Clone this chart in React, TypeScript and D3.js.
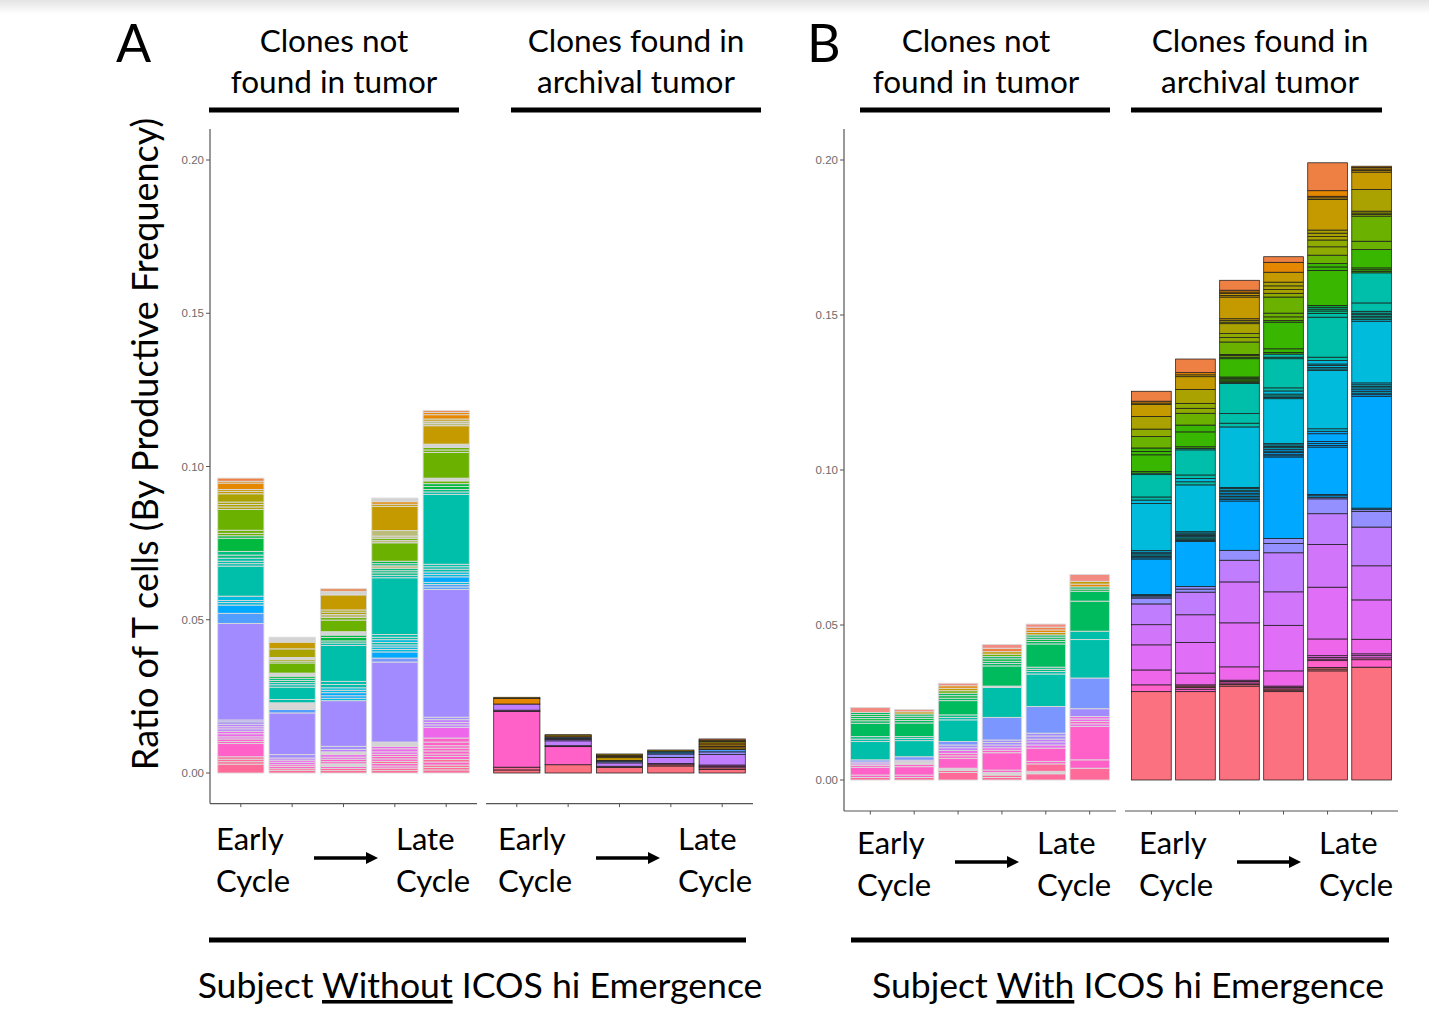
import React from "react";
import * as d3 from "d3";

type Seg = [number, string];

// Colour of each clone group (hue family)
const PAL: Record<string, string> = {
  rd: "#FC717F", pr: "#FF6A98", pk: "#FF61C9", mg: "#EE67EB", or1: "#E06EF6", or2: "#D176FA",
  vi: "#C07EFF", lv: "#A28BFF", pw: "#7B97FF", pv: "#9590FF", bl: "#529EFF", ab: "#00A9FF",
  cy: "#00BBDB", tl: "#00BFAA", gt: "#00BE7E", gr: "#00B93E", gn: "#00BA5E", lm: "#39B600",
  yg: "#6BB100", og: "#8FAA00", ol: "#AAA200", kh: "#BDBD7A", gd: "#C49A00", on: "#E58700",
  sa: "#EE8044", sl: "#F28B82", lg: "#D3D3D3",
};

const Y_TICKS = [0, 0.05, 0.1, 0.15, 0.2];

// Panel A — clones not found in tumor (bottom -> top)
const A_NOT_1: Seg[] = [[0.0029,"pr"],[0.0008,"pr"],[0.0008,"pr"],[0.0008,"pr"],[0.0043,"pk"],[0.0007,"pk"],[0.0008,"pk"],[0.0007,"mg"],[0.0010,"mg"],[0.0008,"mg"],[0.0008,"vi"],[0.0007,"vi"],[0.0008,"vi"],[0.0008,"lv"],[0.0006,"lv"],[0.0315,"lv"],[0.0033,"bl"],[0.0027,"ab"],[0.0008,"cy"],[0.0007,"cy"],[0.0014,"cy"],[0.0098,"tl"],[0.0008,"tl"],[0.0008,"tl"],[0.0010,"tl"],[0.0010,"gt"],[0.0012,"gt"],[0.0043,"gr"],[0.0008,"gr"],[0.0008,"yg"],[0.0010,"yg"],[0.0068,"yg"],[0.0008,"ol"],[0.0008,"ol"],[0.0008,"ol"],[0.0027,"ol"],[0.0008,"gd"],[0.0006,"gd"],[0.0021,"on"],[0.0006,"on"],[0.0010,"sa"]];
const A_NOT_2: Seg[] = [[0.0008,"pr"],[0.0006,"pr"],[0.0007,"pk"],[0.0006,"pk"],[0.0008,"mg"],[0.0007,"mg"],[0.0007,"vi"],[0.0011,"lv"],[0.0136,"lv"],[0.0011,"bl"],[0.0008,"lg"],[0.0007,"lg"],[0.0007,"lg"],[0.0011,"tl"],[0.0040,"tl"],[0.0008,"tl"],[0.0007,"tl"],[0.0007,"gt"],[0.0007,"gt"],[0.0007,"gr"],[0.0010,"lg"],[0.0033,"yg"],[0.0006,"yg"],[0.0006,"ol"],[0.0006,"lg"],[0.0028,"ol"],[0.0022,"gd"],[0.0016,"lg"]];
const A_NOT_3: Seg[] = [[0.0008,"pr"],[0.0007,"pr"],[0.0007,"pk"],[0.0008,"lg"],[0.0007,"pk"],[0.0008,"pk"],[0.0007,"mg"],[0.0008,"mg"],[0.0009,"lg"],[0.0008,"vi"],[0.0010,"lv"],[0.0149,"lv"],[0.0008,"cy"],[0.0008,"ab"],[0.0010,"ab"],[0.0008,"cy"],[0.0008,"cy"],[0.0011,"tl"],[0.0010,"tl"],[0.0117,"tl"],[0.0008,"tl"],[0.0007,"gt"],[0.0011,"gr"],[0.0008,"gr"],[0.0011,"lg"],[0.0038,"yg"],[0.0008,"yg"],[0.0010,"kh"],[0.0008,"ol"],[0.0007,"ol"],[0.0049,"gd"],[0.0012,"lg"],[0.0008,"sa"]];
const A_NOT_4: Seg[] = [[0.0008,"pr"],[0.0008,"pr"],[0.0007,"pk"],[0.0008,"pk"],[0.0007,"pr"],[0.0008,"pk"],[0.0008,"pk"],[0.0007,"pk"],[0.0008,"mg"],[0.0010,"mg"],[0.0008,"mg"],[0.0014,"lg"],[0.0261,"lv"],[0.0013,"pw"],[0.0020,"ab"],[0.0008,"cy"],[0.0008,"cy"],[0.0007,"cy"],[0.0008,"tl"],[0.0009,"cy"],[0.0008,"tl"],[0.0009,"tl"],[0.0185,"tl"],[0.0008,"tl"],[0.0008,"gt"],[0.0007,"gt"],[0.0008,"gt"],[0.0008,"kh"],[0.0007,"gt"],[0.0008,"gr"],[0.0060,"yg"],[0.0008,"kh"],[0.0007,"yg"],[0.0007,"kh"],[0.0018,"kh"],[0.0079,"gd"],[0.0007,"gd"],[0.0008,"on"],[0.0012,"lg"]];
const A_NOT_5: Seg[] = [[0.0010,"pr"],[0.0008,"pr"],[0.0008,"pr"],[0.0010,"pk"],[0.0008,"pr"],[0.0010,"pk"],[0.0008,"pk"],[0.0010,"pk"],[0.0009,"pk"],[0.0008,"pk"],[0.0012,"pk"],[0.0013,"pk"],[0.0035,"mg"],[0.0008,"vi"],[0.0008,"vi"],[0.0009,"vi"],[0.0008,"lv"],[0.0417,"lv"],[0.0008,"bl"],[0.0008,"bl"],[0.0007,"cy"],[0.0018,"ab"],[0.0008,"cy"],[0.0008,"cy"],[0.0009,"tl"],[0.0008,"tl"],[0.0008,"tl"],[0.0228,"tl"],[0.0008,"tl"],[0.0008,"gt"],[0.0010,"gr"],[0.0009,"gr"],[0.0009,"yg"],[0.0009,"lg"],[0.0084,"yg"],[0.0008,"yg"],[0.0008,"yg"],[0.0011,"lg"],[0.0060,"gd"],[0.0008,"kh"],[0.0007,"kh"],[0.0007,"gd"],[0.0014,"on"],[0.0007,"on"],[0.0006,"sa"]];

// Panel A — clones found in archival tumor
const A_FOUND_1: Seg[] = [[0.0010,"rd"],[0.0009,"pr"],[0.0182,"pk"],[0.0004,"pk"],[0.0020,"vi"],[0.0018,"on"],[0.0004,"gd"]];
const A_FOUND_2: Seg[] = [[0.0027,"rd"],[0.0059,"pk"],[0.0003,"pk"],[0.0016,"vi"],[0.0004,"vi"],[0.0004,"pv"],[0.0004,"bl"],[0.0004,"on"],[0.0004,"gd"]];
const A_FOUND_3: Seg[] = [[0.0018,"rd"],[0.0004,"rd"],[0.0011,"vi"],[0.0004,"pv"],[0.0004,"bl"],[0.0009,"gd"],[0.0004,"on"],[0.0004,"gd"],[0.0004,"gd"]];
const A_FOUND_4: Seg[] = [[0.0023,"rd"],[0.0004,"rd"],[0.0004,"pk"],[0.0020,"vi"],[0.0011,"pv"],[0.0004,"bl"],[0.0005,"ab"],[0.0004,"gd"]];
const A_FOUND_5: Seg[] = [[0.0012,"rd"],[0.0005,"rd"],[0.0005,"pk"],[0.0004,"mg"],[0.0034,"vi"],[0.0009,"pv"],[0.0008,"bl"],[0.0005,"gd"],[0.0005,"on"],[0.0005,"gd"],[0.0006,"on"],[0.0005,"ol"],[0.0004,"gd"],[0.0004,"sa"]];

// Panel B — clones not found in tumor
const B_NOT_1: Seg[] = [[0.0008,"pr"],[0.0008,"pk"],[0.0025,"pk"],[0.0006,"pk"],[0.0005,"mg"],[0.0006,"vi"],[0.0007,"pw"],[0.0059,"tl"],[0.0008,"tl"],[0.0008,"gt"],[0.0043,"gn"],[0.0008,"gn"],[0.0007,"gr"],[0.0007,"gn"],[0.0006,"gr"],[0.0007,"gn"],[0.0016,"sl"]];
const B_NOT_2: Seg[] = [[0.0008,"pr"],[0.0008,"pk"],[0.0027,"pk"],[0.0008,"pk"],[0.0008,"lg"],[0.0005,"vi"],[0.0011,"pw"],[0.0052,"tl"],[0.0007,"tl"],[0.0006,"gt"],[0.0044,"gn"],[0.0008,"gn"],[0.0007,"gr"],[0.0007,"gn"],[0.0007,"gn"],[0.0007,"gd"],[0.0007,"sl"]];
const B_NOT_3: Seg[] = [[0.0024,"pr"],[0.0007,"pr"],[0.0007,"lg"],[0.0032,"pk"],[0.0008,"pk"],[0.0008,"pk"],[0.0009,"mg"],[0.0009,"vi"],[0.0009,"lv"],[0.0011,"pw"],[0.0070,"tl"],[0.0008,"tl"],[0.0008,"gt"],[0.0046,"gn"],[0.0008,"gn"],[0.0008,"gr"],[0.0008,"gn"],[0.0008,"yg"],[0.0008,"gd"],[0.0008,"on"],[0.0008,"sl"]];
const B_NOT_4: Seg[] = [[0.0008,"pr"],[0.0008,"pr"],[0.0008,"lg"],[0.0008,"pk"],[0.0056,"pk"],[0.0008,"pk"],[0.0008,"mg"],[0.0009,"vi"],[0.0008,"lv"],[0.0008,"lv"],[0.0073,"pw"],[0.0097,"tl"],[0.0004,"lg"],[0.0065,"gn"],[0.0008,"gn"],[0.0007,"gn"],[0.0008,"gr"],[0.0007,"gn"],[0.0008,"yg"],[0.0008,"gd"],[0.0011,"sa"],[0.0012,"sl"]];
const B_NOT_5: Seg[] = [[0.0020,"pr"],[0.0008,"lg"],[0.0024,"pr"],[0.0008,"pk"],[0.0043,"pk"],[0.0010,"mg"],[0.0010,"vi"],[0.0009,"vi"],[0.0010,"lv"],[0.0009,"lv"],[0.0086,"pw"],[0.0105,"tl"],[0.0008,"tl"],[0.0007,"gt"],[0.0007,"gt"],[0.0075,"gn"],[0.0008,"gn"],[0.0007,"gr"],[0.0007,"gn"],[0.0007,"gn"],[0.0008,"gd"],[0.0008,"on"],[0.0009,"sa"],[0.0010,"sl"]];
const B_NOT_6: Seg[] = [[0.0038,"pr"],[0.0027,"pk"],[0.0108,"pk"],[0.0008,"mg"],[0.0008,"pk"],[0.0008,"mg"],[0.0008,"mg"],[0.0025,"lv"],[0.0099,"pw"],[0.0124,"tl"],[0.0027,"tl"],[0.0097,"gn"],[0.0032,"gn"],[0.0007,"gr"],[0.0007,"gn"],[0.0009,"on"],[0.0009,"gd"],[0.0022,"sl"]];

// Panel B — clones found in archival tumor
const B_FOUND_1: Seg[] = [[0.0285,"rd"],[0.0022,"pk"],[0.0048,"mg"],[0.0081,"or1"],[0.0065,"or2"],[0.0067,"vi"],[0.0019,"pv"],[0.0004,"pv"],[0.0004,"bl"],[0.0003,"ab"],[0.0115,"ab"],[0.0004,"ab"],[0.0004,"ab"],[0.0005,"cy"],[0.0004,"cy"],[0.0005,"ab"],[0.0005,"cy"],[0.0152,"cy"],[0.0011,"cy"],[0.0010,"tl"],[0.0072,"tl"],[0.0005,"tl"],[0.0005,"lm"],[0.0054,"lm"],[0.0011,"lm"],[0.0011,"lm"],[0.0037,"yg"],[0.0024,"og"],[0.0041,"ol"],[0.0038,"gd"],[0.0005,"gd"],[0.0006,"on"],[0.0032,"sa"]];
const B_FOUND_2: Seg[] = [[0.0285,"rd"],[0.0008,"pk"],[0.0005,"pk"],[0.0005,"rd"],[0.0004,"pk"],[0.0038,"mg"],[0.0099,"or1"],[0.0089,"or2"],[0.0073,"vi"],[0.0010,"pv"],[0.0008,"pv"],[0.0145,"ab"],[0.0004,"cy"],[0.0004,"cy"],[0.0004,"tl"],[0.0004,"cy"],[0.0004,"cy"],[0.0004,"cy"],[0.0004,"cy"],[0.0004,"cy"],[0.0151,"cy"],[0.0010,"tl"],[0.0011,"cy"],[0.0011,"tl"],[0.0081,"tl"],[0.0005,"tl"],[0.0005,"lm"],[0.0048,"lm"],[0.0022,"lm"],[0.0038,"yg"],[0.0016,"og"],[0.0016,"og"],[0.0045,"ol"],[0.0041,"gd"],[0.0006,"gd"],[0.0007,"on"],[0.0044,"sa"]];
const B_FOUND_3: Seg[] = [[0.0303,"rd"],[0.0005,"rd"],[0.0005,"pk"],[0.0005,"pk"],[0.0004,"mg"],[0.0043,"mg"],[0.0142,"or1"],[0.0132,"or2"],[0.0070,"vi"],[0.0032,"pv"],[0.0159,"ab"],[0.0005,"ab"],[0.0005,"ab"],[0.0005,"cy"],[0.0005,"ab"],[0.0005,"cy"],[0.0005,"ab"],[0.0005,"cy"],[0.0005,"cy"],[0.0004,"cy"],[0.0195,"cy"],[0.0012,"tl"],[0.0031,"tl"],[0.0097,"tl"],[0.0004,"tl"],[0.0004,"lm"],[0.0004,"lm"],[0.0005,"lm"],[0.0004,"lm"],[0.0059,"lm"],[0.0005,"lm"],[0.0005,"yg"],[0.0004,"yg"],[0.0040,"yg"],[0.0014,"og"],[0.0013,"og"],[0.0032,"ol"],[0.0005,"ol"],[0.0006,"ol"],[0.0005,"gd"],[0.0070,"gd"],[0.0005,"gd"],[0.0006,"gd"],[0.0005,"on"],[0.0006,"on"],[0.0032,"sa"]];
const B_FOUND_4: Seg[] = [[0.0285,"rd"],[0.0005,"rd"],[0.0004,"rd"],[0.0005,"pk"],[0.0004,"pk"],[0.0049,"mg"],[0.0147,"or1"],[0.0108,"or2"],[0.0126,"vi"],[0.0030,"pv"],[0.0016,"pv"],[0.0263,"ab"],[0.0004,"ab"],[0.0005,"ab"],[0.0006,"ab"],[0.0004,"cy"],[0.0006,"ab"],[0.0005,"cy"],[0.0004,"cy"],[0.0005,"cy"],[0.0004,"cy"],[0.0145,"cy"],[0.0004,"cy"],[0.0005,"cy"],[0.0006,"tl"],[0.0010,"cy"],[0.0010,"tl"],[0.0094,"tl"],[0.0005,"tl"],[0.0010,"tl"],[0.0005,"lm"],[0.0012,"lm"],[0.0086,"lm"],[0.0005,"lm"],[0.0012,"yg"],[0.0012,"yg"],[0.0052,"yg"],[0.0012,"og"],[0.0012,"ol"],[0.0012,"ol"],[0.0012,"ol"],[0.0032,"gd"],[0.0032,"on"],[0.0018,"sa"]];
const B_FOUND_5: Seg[] = [[0.0352,"rd"],[0.0006,"rd"],[0.0005,"rd"],[0.0022,"pk"],[0.0005,"pk"],[0.0005,"mg"],[0.0006,"mg"],[0.0054,"mg"],[0.0167,"or1"],[0.0138,"or2"],[0.0099,"vi"],[0.0048,"pv"],[0.0005,"pv"],[0.0005,"ab"],[0.0004,"ab"],[0.0153,"ab"],[0.0005,"ab"],[0.0006,"ab"],[0.0007,"ab"],[0.0025,"ab"],[0.0008,"ab"],[0.0008,"cy"],[0.0188,"cy"],[0.0005,"cy"],[0.0005,"cy"],[0.0006,"cy"],[0.0005,"cy"],[0.0011,"cy"],[0.0011,"tl"],[0.0129,"tl"],[0.0012,"tl"],[0.0008,"gt"],[0.0006,"gt"],[0.0006,"gt"],[0.0006,"gr"],[0.0113,"lm"],[0.0011,"lm"],[0.0011,"lm"],[0.0027,"yg"],[0.0027,"og"],[0.0022,"og"],[0.0011,"ol"],[0.0011,"ol"],[0.0010,"ol"],[0.0099,"gd"],[0.0005,"gd"],[0.0005,"on"],[0.0018,"on"],[0.0090,"sa"]];
const B_FOUND_6: Seg[] = [[0.0364,"rd"],[0.0024,"pk"],[0.0006,"pk"],[0.0007,"mg"],[0.0006,"mg"],[0.0047,"mg"],[0.0127,"or1"],[0.0110,"or2"],[0.0125,"vi"],[0.0050,"pv"],[0.0006,"pv"],[0.0005,"ab"],[0.0361,"ab"],[0.0005,"ab"],[0.0005,"ab"],[0.0006,"cy"],[0.0005,"ab"],[0.0006,"cy"],[0.0005,"cy"],[0.0005,"cy"],[0.0006,"cy"],[0.0199,"cy"],[0.0005,"cy"],[0.0006,"tl"],[0.0005,"tl"],[0.0005,"tl"],[0.0005,"tl"],[0.0006,"tl"],[0.0027,"tl"],[0.0097,"tl"],[0.0005,"lm"],[0.0005,"lm"],[0.0006,"lm"],[0.0059,"lm"],[0.0027,"yg"],[0.0081,"yg"],[0.0005,"og"],[0.0005,"og"],[0.0006,"ol"],[0.0070,"ol"],[0.0056,"gd"],[0.0005,"gd"],[0.0005,"on"],[0.0005,"gd"],[0.0004,"on"]];

const A_NOT = [A_NOT_1, A_NOT_2, A_NOT_3, A_NOT_4, A_NOT_5];
const A_FOUND = [A_FOUND_1, A_FOUND_2, A_FOUND_3, A_FOUND_4, A_FOUND_5];
const B_NOT = [B_NOT_1, B_NOT_2, B_NOT_3, B_NOT_4, B_NOT_5, B_NOT_6];
const B_FOUND = [B_FOUND_1, B_FOUND_2, B_FOUND_3, B_FOUND_4, B_FOUND_5, B_FOUND_6];

const HEAD_LEFT = ["Clones not", "found in tumor"];
const HEAD_RIGHT = ["Clones found in", "archival tumor"];
const Y_TITLE = "Ratio of T cells (By Productive Frequency)";

const FONT = "Lato, 'Open Sans', sans-serif";
const AXFONT = "Arial, 'Liberation Sans', sans-serif";

type FacetProps = { bars: Seg[][]; x0: number; x1: number; y: d3.ScaleLinear<number, number>; axisY: number; dark: boolean };

function Facet({ bars, x0, x1, y, axisY, dark }: FacetProps) {
  const xb = d3.scaleBand<number>().domain(d3.range(bars.length)).range([x0, x1]).paddingInner(0.1).paddingOuter(0.15);
  const stroke = dark ? "#1c1c1c" : "#DADADA";
  const sw = dark ? 0.75 : 0.9;
  return (
    <g>
      {bars.map((segs, i) => {
        const cum = Array.from(d3.cumsum(segs.map((s) => s[0])));
        return (
          <g key={i}>
            {segs.map((s, j) => {
              const top = cum[j];
              const bot = top - s[0];
              return (
                <rect key={j} x={xb(i)} width={xb.bandwidth()} y={y(top)} height={y(bot) - y(top)}
                  fill={PAL[s[1]]} stroke={stroke} strokeWidth={sw} />
              );
            })}
          </g>
        );
      })}
      <line x1={x0} x2={x1} y1={axisY} y2={axisY} stroke="#555" strokeWidth={1.2} />
      {bars.map((_, i) => (
        <line key={i} x1={xb(i)! + xb.bandwidth() / 2} x2={xb(i)! + xb.bandwidth() / 2} y1={axisY} y2={axisY + 3.5} stroke="#555" strokeWidth={1} />
      ))}
    </g>
  );
}

function YAxis({ x, y, top, bottom }: { x: number; y: d3.ScaleLinear<number, number>; top: number; bottom: number }) {
  return (
    <g>
      <line x1={x} x2={x} y1={top} y2={bottom} stroke="#555" strokeWidth={1.2} />
      {Y_TICKS.map((t) => (
        <g key={t}>
          <line x1={x - 4} x2={x} y1={y(t)} y2={y(t)} stroke="#555" strokeWidth={1} />
          <text x={x - 6} y={y(t)} dy="0.35em" textAnchor="end" fontSize={11.5} fill="#6b6b6b" fontFamily={AXFONT}>{d3.format(".2f")(t)}</text>
        </g>
      ))}
    </g>
  );
}

function Arrow({ x1, x2, y }: { x1: number; x2: number; y: number }) {
  return (
    <g>
      <line x1={x1} x2={x2 - 10} y1={y} y2={y} stroke="#000" strokeWidth={3.5} />
      <path d={`M${x2},${y} L${x2 - 12},${y - 6} L${x2 - 12},${y + 6} Z`} fill="#000" />
    </g>
  );
}

function CycleLabels({ x0, xLate, y1, y2, arrowX1, arrowX2, arrowY }: any) {
  return (
    <g fontFamily={FONT} fontSize={31} fill="#000">
      <text x={x0} y={y1}>Early</text>
      <text x={x0} y={y2}>Cycle</text>
      <text x={xLate} y={y1}>Late</text>
      <text x={xLate} y={y2}>Cycle</text>
      <Arrow x1={arrowX1} x2={arrowX2} y={arrowY} />
    </g>
  );
}

export default function App() {
  const yA = d3.scaleLinear().domain([0, 0.2]).range([773, 160]);
  const yB = d3.scaleLinear().domain([0, 0.2]).range([780, 160]);

  const heads = [
    { cx: 334, lines: HEAD_LEFT, l1: 209, l2: 459 },
    { cx: 636, lines: HEAD_RIGHT, l1: 511, l2: 761 },
    { cx: 976, lines: HEAD_LEFT, l1: 860, l2: 1110 },
    { cx: 1260, lines: HEAD_RIGHT, l1: 1131, l2: 1382 },
  ];

  return (
    <svg width={1429} height={1011} style={{ position: "absolute", left: 0, top: 0, background: "#fff" }}>
      <defs>
        <linearGradient id="topShade" x1="0" y1="0" x2="0" y2="1">
          <stop offset="0" stopColor="#e4e4e4" />
          <stop offset="1" stopColor="#ffffff" />
        </linearGradient>
      </defs>
      <rect x={0} y={0} width={1429} height={14} fill="url(#topShade)" />

      {/* panel letters */}
      <text x={116} y={62} fontFamily={FONT} fontSize={52} fill="#000">A</text>
      <text x={807} y={62} fontFamily={FONT} fontSize={52} fill="#000">B</text>

      {/* facet headers */}
      {heads.map((h, i) => (
        <g key={i}>
          <text x={h.cx} y={52} textAnchor="middle" fontFamily={FONT} fontSize={31.5}>{h.lines[0]}</text>
          <text x={h.cx} y={93} textAnchor="middle" fontFamily={FONT} fontSize={31.5}>{h.lines[1]}</text>
          <rect x={h.l1} width={h.l2 - h.l1} y={107.5} height={5} fill="#000" />
        </g>
      ))}

      {/* y title */}
      <text transform="translate(158,444) rotate(-90)" textAnchor="middle" fontFamily={FONT} fontSize={36}>{Y_TITLE}</text>

      {/* Panel A */}
      <YAxis x={210} y={yA} top={129} bottom={803.6} />
      <Facet bars={A_NOT} x0={210} x1={477} y={yA} axisY={803.6} dark={false} />
      <Facet bars={A_FOUND} x0={486} x1={753} y={yA} axisY={803.6} dark={true} />

      {/* Panel B */}
      <YAxis x={844} y={yB} top={129} bottom={811} />
      <Facet bars={B_NOT} x0={844} x1={1116} y={yB} axisY={811} dark={false} />
      <Facet bars={B_FOUND} x0={1125} x1={1398} y={yB} axisY={811} dark={true} />

      {/* cycle labels */}
      <CycleLabels x0={216} xLate={396} y1={850} y2={892} arrowX1={314} arrowX2={378} arrowY={858} />
      <CycleLabels x0={498} xLate={678} y1={850} y2={892} arrowX1={596} arrowX2={660} arrowY={858} />
      <CycleLabels x0={857} xLate={1037} y1={854} y2={896} arrowX1={955} arrowX2={1019} arrowY={862} />
      <CycleLabels x0={1139} xLate={1319} y1={854} y2={896} arrowX1={1237} arrowX2={1301} arrowY={862} />

      {/* bottom lines & subject titles */}
      <rect x={209} width={537} y={937.5} height={5} fill="#000" />
      <rect x={851} width={538} y={937.5} height={5} fill="#000" />
      <text x={480} y={998} textAnchor="middle" fontFamily={FONT} fontSize={35.6}>
        Subject <tspan style={{ textDecoration: "underline" }}>Without</tspan> ICOS hi Emergence
      </text>
      <text x={1128} y={998} textAnchor="middle" fontFamily={FONT} fontSize={35.6}>
        Subject <tspan style={{ textDecoration: "underline" }}>With</tspan> ICOS hi Emergence
      </text>
    </svg>
  );
}
